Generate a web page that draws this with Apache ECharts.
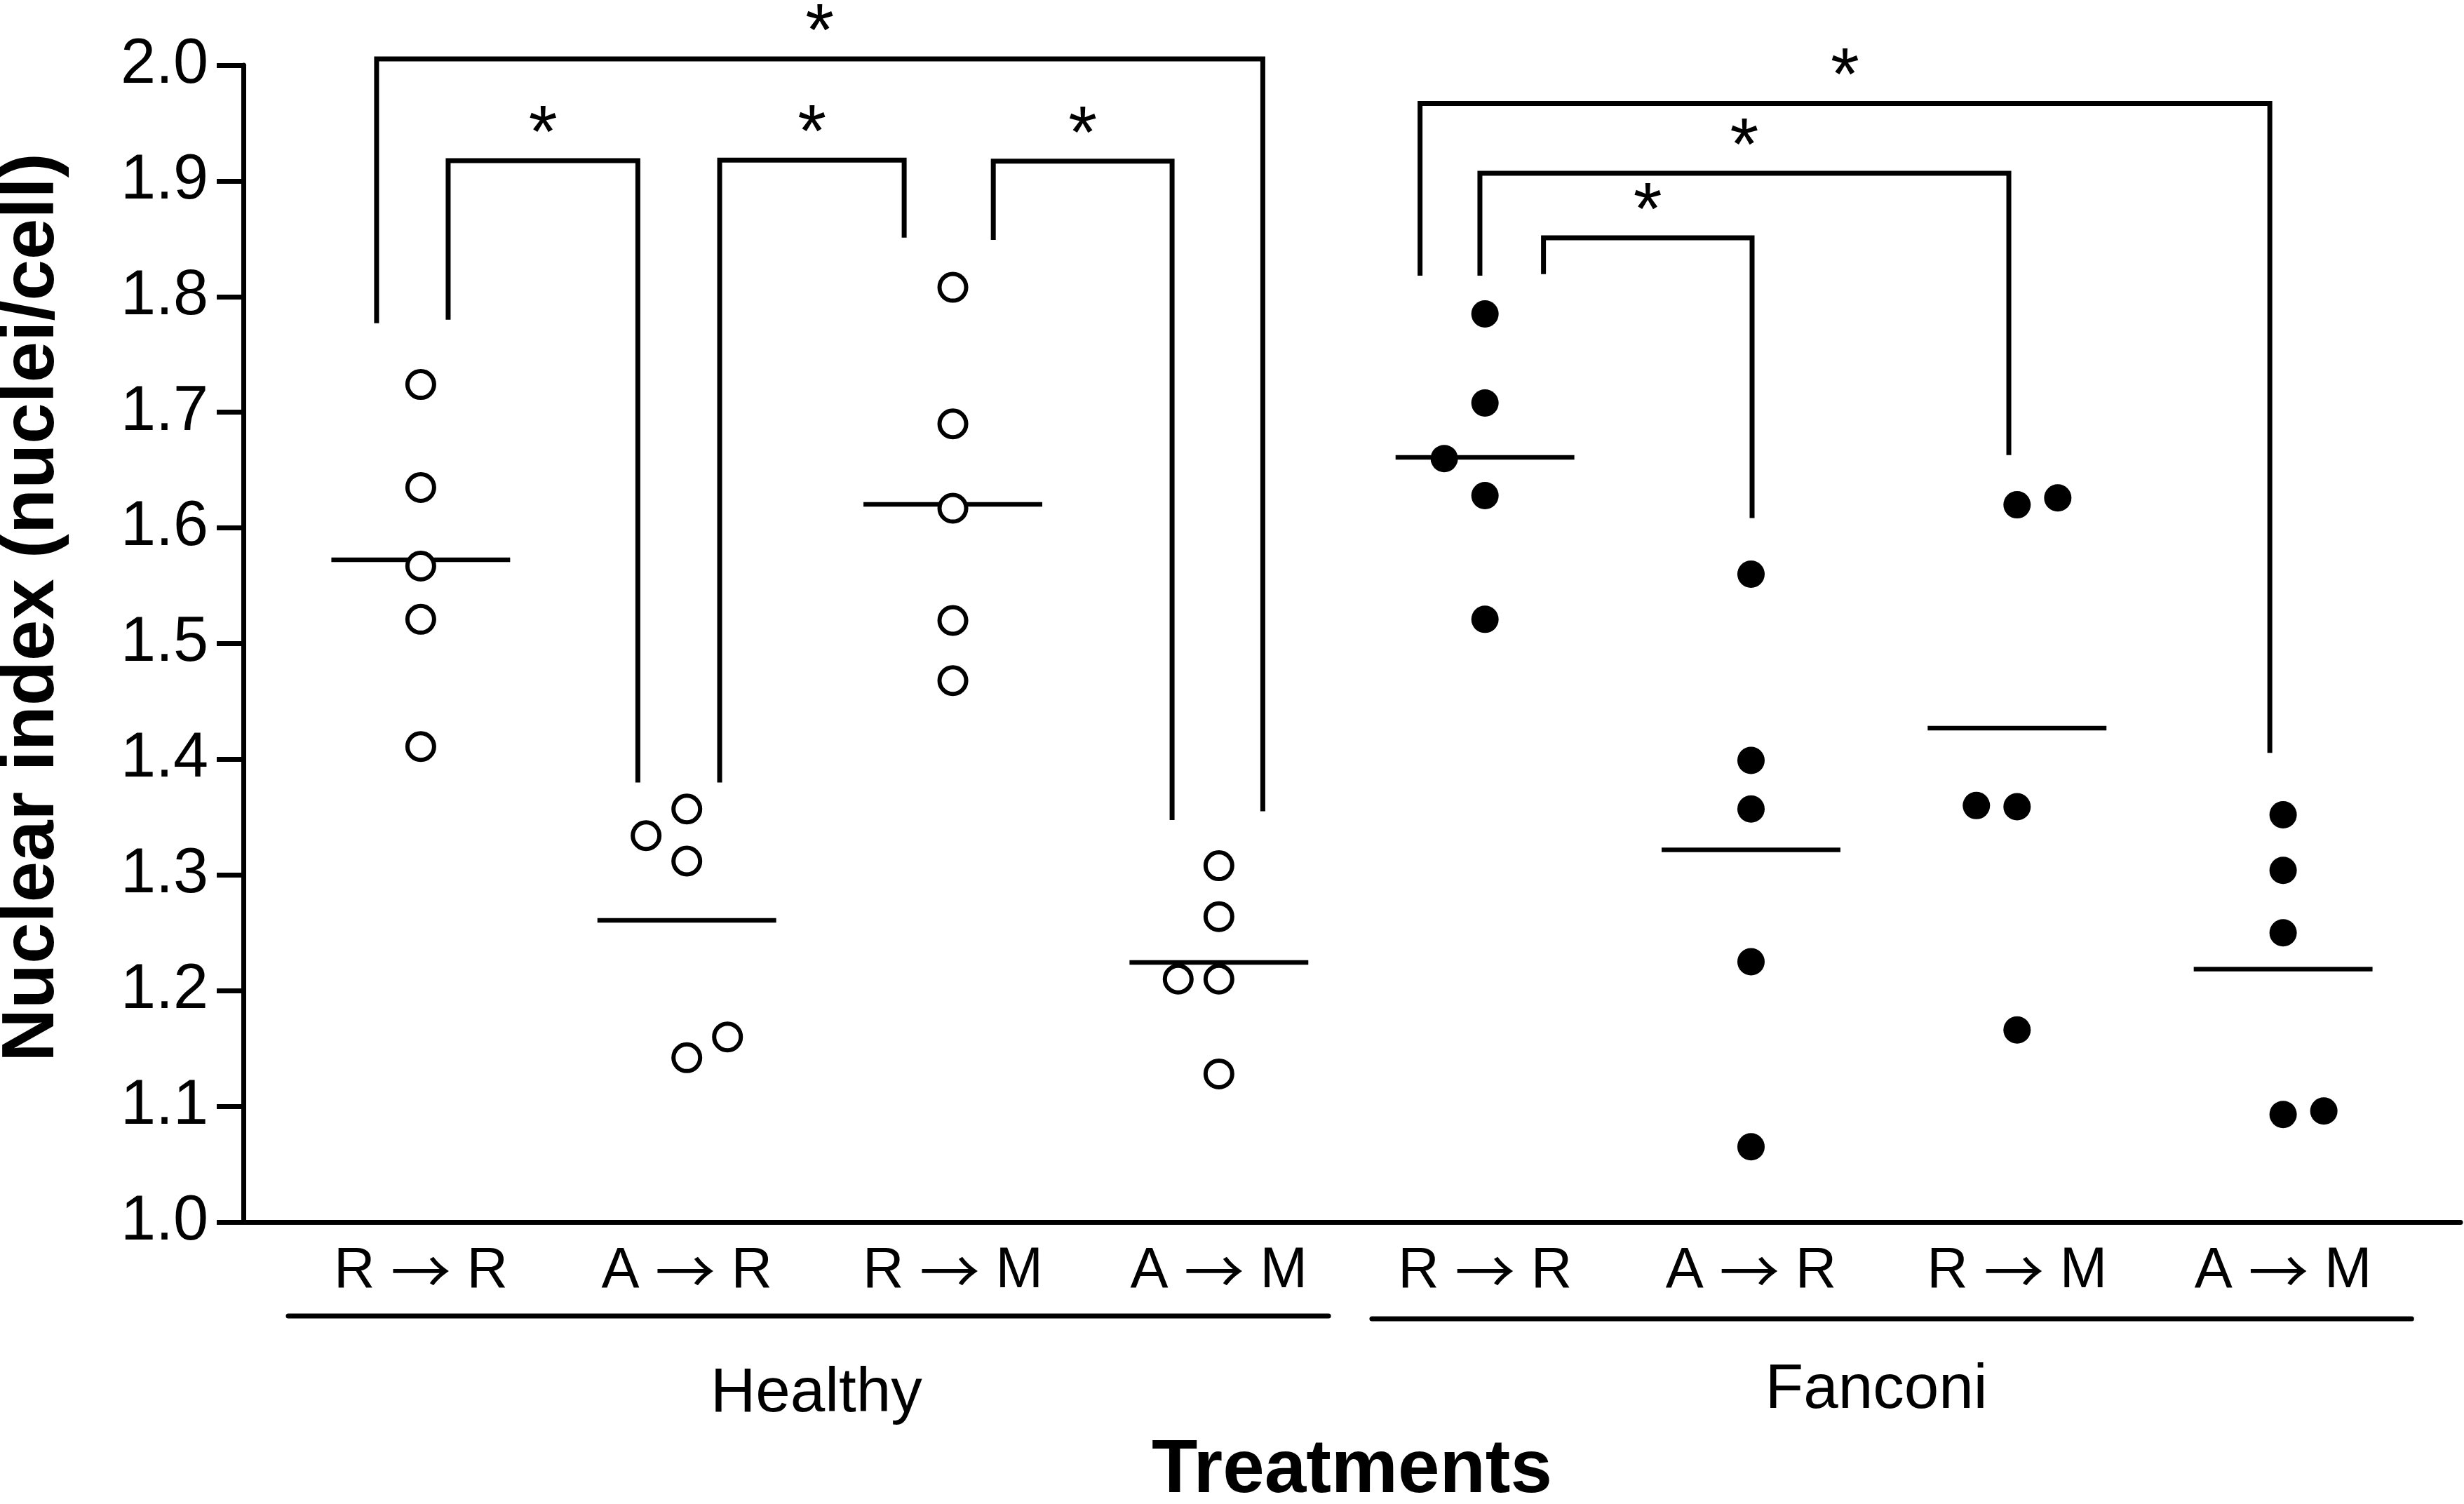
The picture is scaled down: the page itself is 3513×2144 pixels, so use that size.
<!DOCTYPE html>
<html>
<head>
<meta charset="utf-8">
<script src="https://cdn.jsdelivr.net/npm/echarts@6/dist/echarts.min.js"></script>
<style>
html,body{margin:0;padding:0;background:#fff;}
#chart{width:3513px;height:2144px;}
</style>
</head>
<body>
<div id="chart"></div>
<script>
// ---------------- data ----------------
const categories = ['R \u2192 R', 'A \u2192 R', 'R \u2192 M', 'A \u2192 M', 'R \u2192 R', 'A \u2192 R', 'R \u2192 M', 'A \u2192 M'];
const groups = ['Healthy', 'Fanconi'];
const yTickMin = 1.0, yTickMax = 2.0, yTickStep = 0.1;

// Healthy (open circles)
const healthyRR = [1.724, 1.635, 1.567, 1.521, 1.411];
const healthyAR = [1.334, 1.357, 1.312, 1.142, 1.160];
const healthyRM = [1.808, 1.690, 1.617, 1.520, 1.468];
const healthyAM = [1.308, 1.264, 1.210, 1.210, 1.128];
// Fanconi (filled dots)
const fanconiRR = [1.785, 1.708, 1.660, 1.628, 1.521];
const fanconiAR = [1.560, 1.399, 1.357, 1.225, 1.065];
const fanconiRM = [1.620, 1.626, 1.360, 1.359, 1.166];
const fanconiAM = [1.352, 1.304, 1.250, 1.093, 1.096];

// side-by-side displacement of overlapping points (-1 left, 0 centre, +1 right)
const healthyRRshift = [0, 0, 0, 0, 0];
const healthyARshift = [-1, 0, 0, 0, 1];
const healthyRMshift = [0, 0, 0, 0, 0];
const healthyAMshift = [0, 0, -1, 0, 0];
const fanconiRRshift = [0, 0, -1, 0, 0];
const fanconiARshift = [0, 0, 0, 0, 0];
const fanconiRMshift = [0, 1, -1, 0, 0];
const fanconiAMshift = [0, 0, 0, 0, 1];

// group means (horizontal bars)
const means = [1.5725, 1.2608, 1.6204, 1.2244, 1.661, 1.3217, 1.427, 1.2186];

// significance brackets: [left x, left foot y, top y, right x, right foot y]
const brackets = [
  [0.834, 1.777, 2.0055, 4.165, 1.355],
  [1.103, 1.780, 1.9175, 1.816, 1.380],
  [2.1235, 1.380, 1.918, 2.817, 1.851],
  [3.152, 1.849, 1.917, 3.824, 1.3475],
  [4.756, 1.818, 1.967, 7.950, 1.4056],
  [4.981, 1.818, 1.9066, 6.969, 1.663],
  [5.220, 1.8195, 1.8508, 6.004, 1.6085]
];
const bracketMark = '*';

// ---------------- layout / style ----------------
const FONT = '"Liberation Sans", Arial, Helvetica, sans-serif';
const ARROW_FONT = '"Noto Sans CJK SC", "DejaVu Sans", sans-serif';
const X_MIN = 1 / 3, X_MAX = 26 / 3;
const SHIFT = 0.153;
const MEAN_HALF = 0.336;
const LW = 7;
const STAR_OFFSET = 34;
const GROUP_LAYOUT = [
  { from: 0.502, to: 4.412, labelX: 2.487, lineDy: 134, textDy: 245 },
  { from: 4.575, to: 8.483, labelX: 6.471, lineDy: 138, textDy: 240 }
];

function points(values, shifts, cat) {
  return values.map((v, i) => [cat + shifts[i] * SHIFT, v]);
}
const healthyData = [].concat(
  points(healthyRR, healthyRRshift, 1),
  points(healthyAR, healthyARshift, 2),
  points(healthyRM, healthyRMshift, 3),
  points(healthyAM, healthyAMshift, 4)
);
const fanconiData = [].concat(
  points(fanconiRR, fanconiRRshift, 5),
  points(fanconiAR, fanconiARshift, 6),
  points(fanconiRM, fanconiRMshift, 7),
  points(fanconiAM, fanconiAMshift, 8)
);

function categoryLabel(v) {
  const c = categories[Math.round(v) - 1];
  if (!c) return '';
  const parts = c.split(' \u2192 ');
  return '{t|' + parts[0] + '}{s| }{arr|\u2192}{s| }{t|' + parts[1] + '}';
}

const chart = echarts.init(document.getElementById('chart'), null, { renderer: 'canvas' });

const option = {
  animation: false,
  backgroundColor: '#ffffff',
  textStyle: { fontFamily: FONT, color: '#000' },
  grid: { left: 347, right: 5, top: 93, bottom: 402, containLabel: false, outerBoundsMode: 'none' },
  xAxis: {
    type: 'value',
    min: X_MIN,
    max: X_MAX,
    axisLine: { show: true, onZero: false, lineStyle: { color: '#000', width: LW } },
    axisTick: { show: false },
    splitLine: { show: false },
    axisLabel: {
      customValues: categories.map((c, i) => i + 1),
      formatter: categoryLabel,
      color: '#000',
      fontFamily: FONT,
      fontSize: 81,
      margin: 30,
      rich: {
        t: { fontFamily: FONT, fontSize: 81, color: '#000', lineHeight: 81 },
        s: { fontFamily: FONT, fontSize: 81, color: '#000', lineHeight: 81 },
        arr: { fontFamily: ARROW_FONT, fontSize: 86, color: '#000', lineHeight: 81 }
      }
    },
    name: 'Treatments',
    nameLocation: 'middle',
    nameGap: 302,
    nameMoveOverlap: false,
    nameTextStyle: { color: '#000', fontFamily: FONT, fontWeight: 'bold', fontSize: 107 }
  },
  yAxis: {
    type: 'value',
    min: yTickMin,
    max: yTickMax,
    interval: yTickStep,
    axisLine: { show: true, lineStyle: { color: '#000', width: LW } },
    axisTick: { show: true, inside: false, length: 38, lineStyle: { color: '#000', width: LW } },
    splitLine: { show: false },
    axisLabel: {
      formatter: (v) => v.toFixed(1),
      color: '#000',
      fontFamily: FONT,
      fontSize: 90,
      margin: 50
    },
    name: 'Nuclear index (nuclei/cell)',
    nameLocation: 'middle',
    nameGap: 247,
    nameMoveOverlap: false,
    nameTextStyle: { color: '#000', fontFamily: FONT, fontWeight: 'bold', fontSize: 105, padding: [0, 0, 0, 103] }
  },
  series: [
    {
      type: 'custom',
      name: 'means',
      z: 2,
      data: means.map((m, i) => [i + 1, m]),
      renderItem: (params, api) => {
        const x = api.value(0), y = api.value(1);
        const a = api.coord([x - MEAN_HALF, y]);
        const b = api.coord([x + MEAN_HALF, y]);
        return {
          type: 'line',
          shape: { x1: a[0], y1: a[1], x2: b[0], y2: b[1] },
          style: { stroke: '#000', lineWidth: LW - 0.5 }
        };
      }
    },
    {
      type: 'custom',
      name: 'brackets',
      z: 3,
      clip: false,
      data: brackets,
      renderItem: (params, api) => {
        const xl = api.value(0), yl = api.value(1), yt = api.value(2), xr = api.value(3), yr = api.value(4);
        const p1 = api.coord([xl, yl]), p2 = api.coord([xl, yt]), p3 = api.coord([xr, yt]), p4 = api.coord([xr, yr]);
        return {
          type: 'group',
          children: [
            {
              type: 'polyline',
              shape: { points: [p1, p2, p3, p4] },
              style: { stroke: '#000', lineWidth: LW, fill: null, lineJoin: 'miter' }
            },
            {
              type: 'text',
              x: (p2[0] + p3[0]) / 2,
              y: p2[1] - STAR_OFFSET,
              style: { text: bracketMark, fill: '#000', fontFamily: FONT, fontSize: 105, align: 'center', verticalAlign: 'middle' }
            }
          ]
        };
      }
    },
    {
      type: 'custom',
      name: 'groups',
      z: 3,
      clip: false,
      data: groups.map((g, i) => [i, yTickMin]),
      renderItem: (params, api) => {
        const i = api.value(0);
        const L = GROUP_LAYOUT[i];
        const a = api.coord([L.from, yTickMin]);
        const b = api.coord([L.to, yTickMin]);
        const c = api.coord([L.labelX, yTickMin]);
        return {
          type: 'group',
          children: [
            {
              type: 'line',
              shape: { x1: a[0], y1: a[1] + L.lineDy, x2: b[0], y2: b[1] + L.lineDy },
              style: { stroke: '#000', lineWidth: LW, lineCap: 'round' }
            },
            {
              type: 'text',
              x: c[0],
              y: c[1] + L.textDy,
              style: { text: groups[i], fill: '#000', fontFamily: FONT, fontSize: 89, align: 'center', verticalAlign: 'middle' }
            }
          ]
        };
      }
    },
    {
      type: 'scatter',
      name: 'Healthy',
      z: 5,
      data: healthyData,
      symbol: 'circle',
      symbolSize: 38,
      itemStyle: { color: '#ffffff', borderColor: '#000', borderWidth: 6, opacity: 1 }
    },
    {
      type: 'scatter',
      name: 'Fanconi',
      z: 5,
      data: fanconiData,
      symbol: 'circle',
      symbolSize: 39,
      itemStyle: { color: '#000', borderWidth: 0, opacity: 1 }
    }
  ]
};
chart.setOption(option);
</script>
</body>
</html>
